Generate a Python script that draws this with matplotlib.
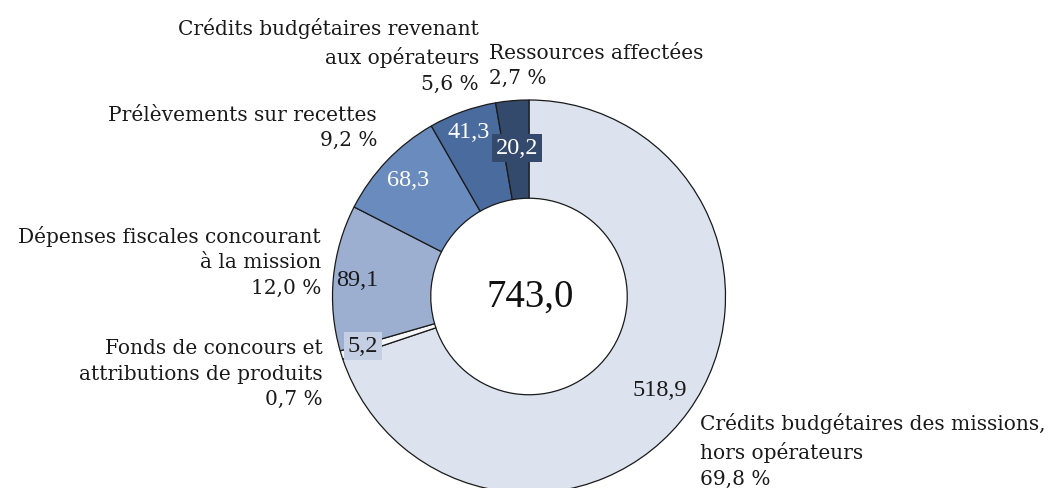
import matplotlib
matplotlib.use("Agg")
import matplotlib.pyplot as plt

# Budget breakdown (Md€)
categories = [
    "Crédits budgétaires des missions,\nhors opérateurs",
    "Fonds de concours et\nattributions de produits",
    "Dépenses fiscales concourant\nà la mission",
    "Prélèvements sur recettes",
    "Crédits budgétaires revenant\naux opérateurs",
    "Ressources affectées",
]
values = [518.9, 5.2, 89.1, 68.3, 41.3, 20.2]
value_labels = ["518,9", "5,2", "89,1", "68,3", "41,3", "20,2"]
share_labels = ["69,8 %", "0,7 %", "12,0 %", "9,2 %", "5,6 %", "2,7 %"]
total_label = "743,0"

colors = ["#dce3ef", "#f4f6fa", "#9dafd1", "#6a8bbd", "#4a6b9e", "#344a6c"]

W, H = 1060, 488
fig = plt.figure(figsize=(W / 100, H / 100), dpi=100)
ax = fig.add_axes([0, 0, 1, 1])

TEXT_FONT = "DejaVu Serif"
NUM_FONT = "Liberation Serif"
cx, cy, R = 529, H - 296.5, 196.5

ax.pie(values, colors=colors, startangle=90, counterclock=False,
       center=(cx, cy), radius=R,
       wedgeprops=dict(width=R * 0.5, edgecolor="#1a1a1a", linewidth=0.9))
ax.set_xlim(0, W)
ax.set_ylim(0, H)
ax.set_aspect("equal")
ax.axis("off")


def px(x, y):
    return x, H - y


# Centre total
ax.text(*px(530, 297), total_label, ha="center", va="center",
        fontsize=28, family=NUM_FONT, color="#111111")

# Value labels on the ring
val_pos = [(660, 390), (363, 346), (357, 280), (408, 181), (469, 133), (517, 148)]
val_col = ["#1a1a1a", "#1a1a1a", "#1a1a1a", "white", "white", "white"]
val_box = [None, "#c5cfe3", None, None, None, "#344a6c"]
for (x, y), t, c, b in zip(val_pos, value_labels, val_col, val_box):
    kw = {}
    if b:
        kw["bbox"] = dict(boxstyle="square,pad=0.15", fc=b, ec="none")
    ax.text(*px(x, y), t, ha="center", va="center", fontsize=17.5,
            family=NUM_FONT, color=c, **kw)

# Category labels with shares
cat_pos = [
    (700, 451, "left"),   # missions hors opérateurs
    (323, 374, "right"),  # fonds de concours
    (321, 262, "right"),  # dépenses fiscales
    (377, 128, "right"),  # prélèvements
    (479, 56, "right"),   # opérateurs
    (489, 66, "left"),    # ressources affectées
]
for (x, y, ha), cat, sh in zip(cat_pos, categories, share_labels):
    ax.text(*px(x, y), cat + "\n" + sh, ha=ha, va="center", fontsize=14.5,
            family=TEXT_FONT, color="#1a1a1a", multialignment=ha,
            linespacing=1.45)

fig.savefig("out.png", dpi=100, facecolor="white")
